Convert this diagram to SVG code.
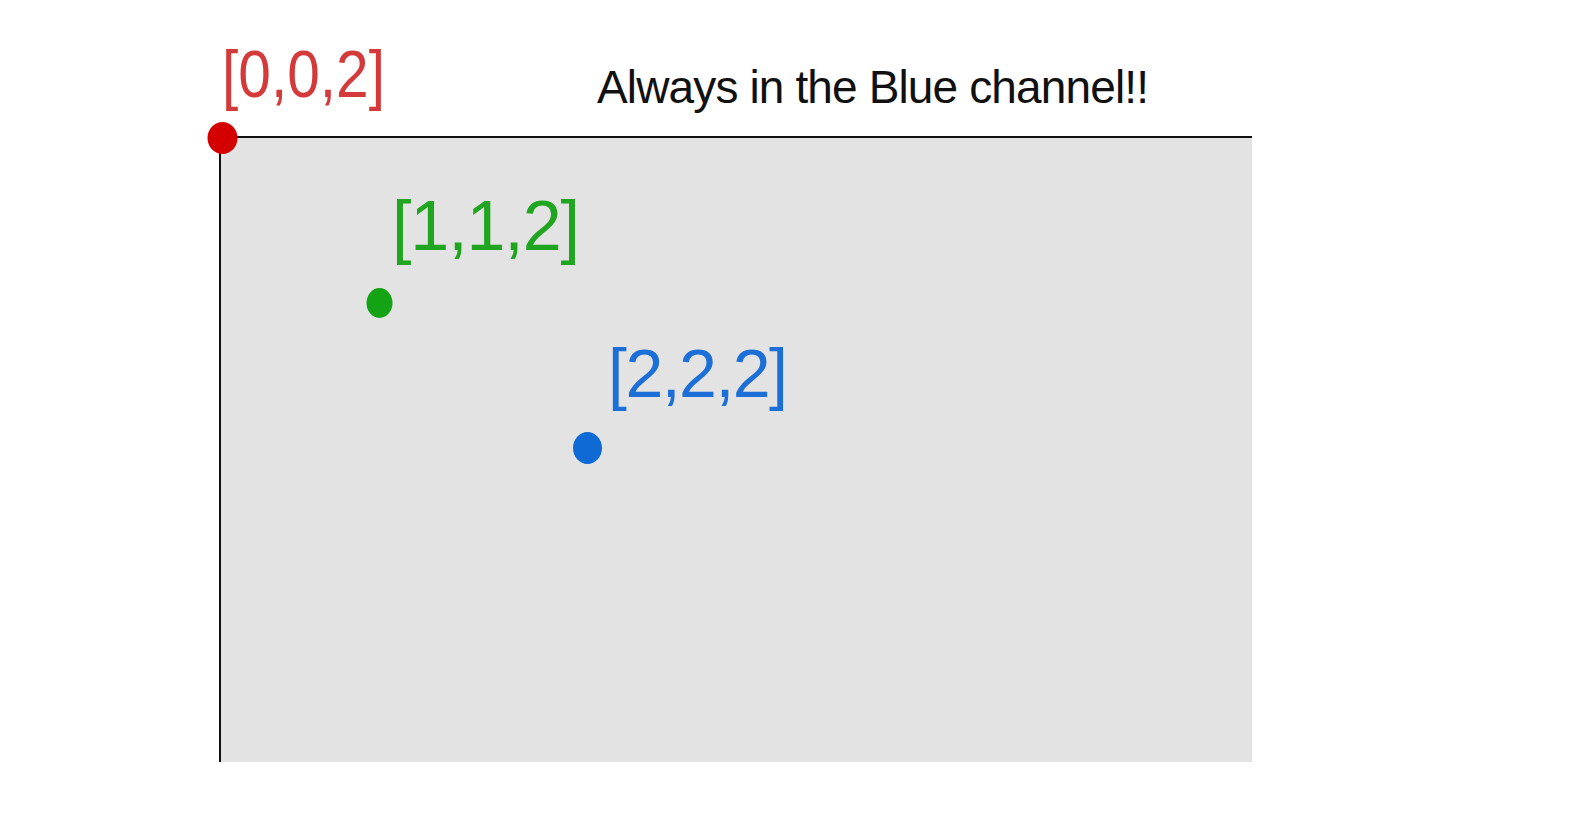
<svg xmlns="http://www.w3.org/2000/svg" width="1580" height="820" viewBox="0 0 1580 820">
  <style>
    .hand { font-family: "Liberation Sans", "DejaVu Sans", sans-serif; font-weight: 400; }
    .red { fill: #d43a3a; }
    .green { fill: #1fa51f; }
    .blue { fill: #1b6fd6; }
    .title { fill: #111111; }
  </style>
  <rect width="1580" height="820" fill="#ffffff"/>
  <g id="canvas">
    <rect x="220" y="137" width="1032" height="625" fill="#e3e3e3"/>
    <path d="M220 762 V137 H1252" fill="none" stroke="#111111" stroke-width="2"/>
  </g>
  <g id="title">
    <text class="hand title" x="597" y="103" font-size="46" textLength="552" lengthAdjust="spacing">Always in the Blue channel!!</text>
  </g>
  <g id="red-point">
    <text class="hand red" x="222" y="97" font-size="66" textLength="163" lengthAdjust="spacingAndGlyphs">[0,0,2]</text>
    <ellipse cx="222.5" cy="138" rx="15" ry="16" fill="#d40000"/>
  </g>
  <g id="green-point">
    <text class="hand green" x="392" y="250" font-size="70" textLength="188" lengthAdjust="spacing">[1,1,2]</text>
    <ellipse cx="379.5" cy="303" rx="13" ry="15" fill="#14a314"/>
  </g>
  <g id="blue-point">
    <text class="hand blue" x="608" y="397" font-size="68" textLength="180" lengthAdjust="spacing">[2,2,2]</text>
    <ellipse cx="587.5" cy="448" rx="14.5" ry="16" fill="#0f6ad6"/>
  </g>
</svg>
